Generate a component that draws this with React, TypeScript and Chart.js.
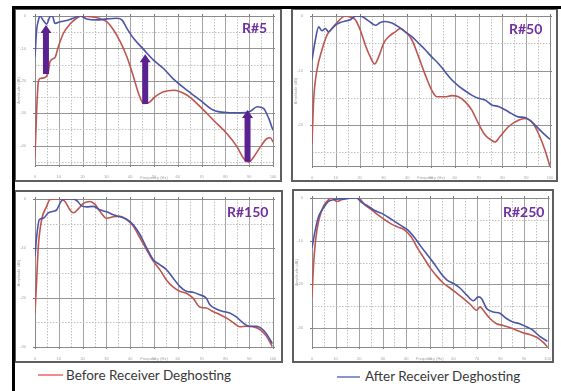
import React, { useEffect, useRef } from 'react';
import { Chart, registerables } from 'chart.js';

Chart.register(...registerables);

// ---------- Data (frequency, amplitude dB) ----------
// Panel R#5
const p1BlueFreq = [0, 0.7, 1.4, 2.1, 3.5, 4.9, 6.3, 7.3, 8.4, 10.5, 13.3, 16.1, 18.9, 21.7, 25.9, 30.2, 34.4, 36.5, 38.6, 41.4, 45.6, 49.8, 54.0, 58.2, 63.8, 69.4, 75.0, 80.6, 86.3, 90.5, 93.3, 96.1, 98.2, 100];
const p1BlueDb = [-12.6, -4.3, -1.4, 0, -1.4, -2.5, -0.2, 0, -2.3, -1.8, -1.4, -0.7, 0, -0.9, -1.2, -0.9, -0.7, -1.2, -3.8, -6.9, -10.3, -13.6, -16.2, -19.5, -22.9, -26.0, -29.1, -29.8, -29.9, -29.4, -28.0, -28.6, -31.6, -35.3];
const p1RedFreq = [0, 0.7, 1.4, 2.1, 4.2, 5.6, 6.3, 8.4, 9.8, 11.9, 14.7, 17.5, 19.6, 23.1, 27.3, 30.2, 33.0, 35.8, 38.6, 41.4, 43.5, 45.6, 47.7, 50.5, 54.0, 58.2, 63.8, 69.4, 75.0, 80.6, 84.9, 87.7, 89.8, 91.9, 94.7, 97.5, 98.9, 100];
const p1RedDb = [-43.5, -29.1, -20.3, -19.3, -19.0, -17.2, -14.1, -12.8, -9.5, -5.4, -2.5, -0.7, 0, -0.2, -0.8, -1.8, -4.3, -7.9, -12.6, -18.8, -23.9, -27.0, -26.8, -24.9, -23.4, -22.9, -24.4, -28.0, -32.2, -36.3, -40.4, -44.0, -45.1, -43.5, -40.4, -37.8, -37.6, -38.9];
const arrowFreq = [4.6, 46.3, 89.3];
const arrowFromDb = [-17.9, -27.2, -45.0];
const arrowToDb = [-2.8, -11.8, -29.0];

// Panel R#50
const p2BlueFreq = [0, 1.4, 2.8, 4.2, 5.6, 7.0, 8.4, 9.8, 11.9, 14.0, 16.1, 17.5, 18.9, 21.0, 23.8, 26.6, 28.7, 30.8, 33.6, 36.4, 39.2, 42.0, 44.8, 47.6, 50.3, 53.1, 55.9, 58.7, 61.5, 64.3, 67.1, 69.9, 72.7, 75.5, 78.3, 81.1, 83.9, 86.7, 89.5, 92.3, 95.1, 97.9, 100];
const p2BlueDb = [-8.1, -4.4, -2.0, -2.7, -2.3, -2.9, -2.3, -1.7, -1.2, -0.9, -0.7, -0.2, 0, -0.1, -0.9, -1.7, -1.2, -1.0, -1.3, -2.0, -2.9, -3.8, -5.0, -6.2, -7.5, -8.7, -10.2, -11.7, -12.8, -13.7, -14.5, -15.1, -15.4, -16.3, -16.6, -17.2, -17.9, -18.5, -18.6, -19.4, -20.6, -21.8, -22.6];
const p2RedFreq = [0, 0.7, 2.1, 4.2, 6.3, 8.4, 11.2, 14.0, 16.1, 18.2, 20.3, 22.4, 24.5, 26.3, 28.0, 30.1, 32.2, 35.0, 37.1, 39.2, 42.0, 44.8, 47.6, 50.3, 52.4, 55.9, 58.7, 61.5, 64.3, 67.1, 69.9, 72.7, 75.5, 76.9, 79.0, 82.5, 86.7, 89.5, 92.3, 95.1, 97.9, 100];
const p2RedDb = [-23.4, -15.4, -9.9, -6.2, -3.5, -2.3, -0.9, 0, -0.2, -0.7, -2.6, -5.3, -7.5, -8.8, -7.5, -5.0, -3.8, -2.9, -2.3, -2.9, -4.4, -7.5, -10.8, -13.6, -14.8, -14.8, -14.6, -14.8, -15.7, -17.2, -19.7, -21.8, -22.8, -23.1, -22.1, -20.3, -19.1, -18.8, -19.4, -21.5, -24.6, -27.6];

// Panel R#150
const p3BlueFreq = [0, 0.7, 1.8, 3.5, 5.6, 7.7, 9.1, 11.2, 13.3, 15.4, 17.5, 19.6, 21.7, 24.5, 27.3, 30.1, 32.9, 35.7, 38.5, 41.3, 44.1, 46.9, 49.7, 52.4, 55.2, 58.0, 60.8, 63.6, 66.4, 69.2, 72.0, 73.4, 76.2, 79.0, 81.8, 84.6, 87.4, 90.2, 93.0, 95.8, 97.9, 99.7];
const p3BlueDb = [-11.6, -7.6, -4.2, -3.9, -2.8, -2.5, -2.2, -0.3, 0, 0, -0.3, -1.4, -1.6, -1.5, -2.2, -2.6, -3.2, -3.6, -4.1, -5.2, -7.2, -9.9, -12.3, -13.3, -14.3, -16.0, -17.7, -18.7, -18.9, -19.4, -20.1, -21.4, -22.3, -22.8, -23.1, -23.9, -25.1, -25.8, -25.8, -26.5, -27.8, -29.3];
const p3RedFreq = [0, 0.7, 1.4, 2.8, 4.9, 6.3, 8.4, 10.5, 12.6, 14.7, 16.1, 18.2, 20.3, 23.1, 25.2, 27.3, 30.1, 32.9, 35.7, 38.5, 41.3, 44.1, 46.9, 49.7, 52.4, 55.2, 58.0, 60.8, 63.6, 66.4, 69.2, 72.0, 74.8, 77.6, 80.4, 83.2, 86.0, 88.8, 91.6, 94.4, 97.2, 99.7];
const p3RedDb = [-23.1, -16.4, -9.6, -4.2, -1.5, -0.1, 0, 0, -0.5, -2.2, -2.8, -2.0, -0.9, -0.5, -1.1, -2.5, -3.9, -3.6, -3.5, -4.2, -5.5, -7.9, -10.3, -12.6, -14.3, -16.4, -17.8, -18.7, -19.1, -20.1, -21.9, -22.1, -22.8, -23.4, -24.1, -25.0, -25.9, -25.8, -25.9, -26.4, -27.8, -29.9];

// Panel R#250
const p4BlueFreq = [0, 1.4, 2.8, 4.9, 7.0, 9.1, 11.2, 14.0, 16.8, 18.9, 21.0, 23.8, 26.6, 29.4, 32.2, 35.0, 37.8, 40.6, 43.4, 46.2, 49.0, 51.7, 54.5, 57.3, 60.1, 62.9, 65.7, 68.5, 70.6, 72.0, 74.1, 76.9, 79.7, 82.5, 85.3, 88.1, 90.9, 93.7, 96.5, 100];
const p4BlueDb = [-11.6, -7.4, -4.3, -2.3, -0.8, -0.4, -0.2, -0.2, 0, 0, -1.0, -1.9, -2.9, -3.5, -4.4, -5.4, -6.4, -7.4, -9.1, -11.2, -13.2, -15.1, -17.3, -19.0, -19.8, -20.9, -22.5, -23.8, -22.9, -23.3, -25.6, -26.4, -26.7, -27.9, -28.7, -29.1, -29.8, -30.6, -32.0, -33.2];
const p4RedFreq = [0, 0.7, 2.1, 4.2, 6.3, 8.4, 10.5, 12.6, 15.4, 18.2, 19.6, 22.4, 25.2, 28.0, 30.8, 33.6, 36.4, 39.2, 42.0, 44.8, 47.6, 50.3, 53.1, 55.9, 58.7, 61.5, 64.3, 67.1, 69.9, 71.3, 72.7, 75.5, 78.3, 81.1, 83.9, 86.7, 89.5, 92.3, 95.1, 97.9, 100];
const p4RedDb = [-22.9, -15.1, -7.4, -2.7, -0.8, 0, -0.8, -0.4, 0, 0, 0, -1.6, -2.7, -3.9, -5.0, -6.0, -6.7, -7.4, -8.9, -11.6, -14.0, -16.3, -18.2, -19.8, -20.9, -22.1, -23.3, -24.6, -26.0, -25.2, -26.0, -27.9, -29.1, -29.5, -30.0, -30.6, -31.2, -31.6, -32.2, -33.3, -34.5];

const panelLabels = ['R#5', 'R#50', 'R#150', 'R#250'];
const panelMinDb = [-46, -27.5, -30, -34.5];
const freqMin = 0;
const freqMax = 100;
const legendLabels = ['Before Receiver Deghosting', 'After Receiver Deghosting'];
const xAxisTitle = 'Frequency (Hz)';
const yAxisTitle = 'Amplitude (dB)';

// ---------- Styles ----------
const RED = '#bd5650';
const BLUE = '#4b55a8';
const ARROW = '#5a2290';
const LABEL = '#7030a0';

type Box = [number, number, number, number];
interface PanelLayout { frame: Box; plot: Box; label: [number, number]; }

const LAYOUT: PanelLayout[] = [
  { frame: [14, 8, 282, 182], plot: [35, 16, 273, 165], label: [242, 21] },
  { frame: [291, 8, 558, 182], plot: [312, 16, 550, 166], label: [509, 22] },
  { frame: [14, 190, 283, 363], plot: [35, 199, 273, 347], label: [227, 205] },
  { frame: [292, 189, 554, 363], plot: [312, 198, 550, 347], label: [503, 205] },
];

const toPts = (xs: number[], ys: number[]) => xs.map((x, i) => ({ x, y: ys[i] }));

const gridPlugin = {
  id: 'paperGrid',
  beforeDatasetsDraw(chart: any) {
    const { ctx, chartArea: a, scales } = chart;
    const xs = scales.x;
    const ys = scales.y;
    ctx.save();
    ctx.lineWidth = 1;
    const xVals: number[] = [];
    for (let v = freqMin; v <= freqMax; v += 5) xVals.push(v);
    xVals.forEach((v) => {
      const px = Math.round(xs.getPixelForValue(v)) + 0.5;
      const major = v % 10 === 0;
      ctx.strokeStyle = major ? '#a5a5a5' : '#c0c0c0';
      ctx.setLineDash(major ? [] : [1.5, 1.5]);
      ctx.beginPath();
      ctx.moveTo(px, a.top);
      ctx.lineTo(px, a.bottom);
      ctx.stroke();
      if (major) {
        ctx.setLineDash([]);
        ctx.strokeStyle = '#777';
        ctx.beginPath();
        ctx.moveTo(px, a.top - 2);
        ctx.lineTo(px, a.top);
        ctx.moveTo(px, a.bottom);
        ctx.lineTo(px, a.bottom + 2);
        ctx.stroke();
      }
    });
    const yVals: number[] = [];
    for (let v = 0; v >= ys.min; v -= 5) yVals.push(v);
    yVals.forEach((v) => {
      const py = Math.round(ys.getPixelForValue(v)) + 0.5;
      const major = v % 10 === 0;
      ctx.strokeStyle = major ? '#959595' : '#c0c0c0';
      ctx.setLineDash(major ? [] : [1.5, 1.5]);
      ctx.beginPath();
      ctx.moveTo(a.left, py);
      ctx.lineTo(a.right, py);
      ctx.stroke();
      if (major) {
        ctx.setLineDash([]);
        ctx.strokeStyle = '#777';
        ctx.beginPath();
        ctx.moveTo(a.left - 2, py);
        ctx.lineTo(a.left, py);
        ctx.moveTo(a.right, py);
        ctx.lineTo(a.right + 2, py);
        ctx.stroke();
      }
    });
    ctx.setLineDash([]);
    ctx.strokeStyle = '#8a8a8a';
    ctx.strokeRect(Math.round(a.left) + 0.5, Math.round(a.top) + 0.5, Math.round(a.right - a.left), Math.round(a.bottom - a.top));
    ctx.restore();
  },
};

const arrowPlugin = {
  id: 'upArrows',
  afterDatasetsDraw(chart: any, _args: any, opts: any) {
    const items = opts && opts.items;
    if (!items || !items.length) return;
    const { ctx, scales } = chart;
    ctx.save();
    ctx.fillStyle = ARROW;
    items.forEach((it: { f: number; from: number; to: number }) => {
      const px = scales.x.getPixelForValue(it.f);
      const yb = scales.y.getPixelForValue(it.from);
      const yt = scales.y.getPixelForValue(it.to);
      const sw = 3;
      const hw = 5.5;
      const hl = 8;
      ctx.beginPath();
      ctx.moveTo(px - sw, yb);
      ctx.lineTo(px - sw, yt + hl);
      ctx.lineTo(px - hw, yt + hl);
      ctx.lineTo(px, yt);
      ctx.lineTo(px + hw, yt + hl);
      ctx.lineTo(px + sw, yt + hl);
      ctx.lineTo(px + sw, yb);
      ctx.closePath();
      ctx.fill();
    });
    ctx.restore();
  },
};

const tickFont = { size: 4, family: 'Liberation Sans' };
const tickColor = '#a4a4a4';
const labelTick = (v: any) => (Math.abs(Number(v) % 10) < 1e-9 ? String(v) : '');

interface PanelProps {
  layout: PanelLayout;
  minDb: number;
  blue: { x: number; y: number }[];
  red: { x: number; y: number }[];
  arrows?: { f: number; from: number; to: number }[];
  label: string;
}

function Panel({ layout, minDb, blue, red, arrows, label }: PanelProps) {
  const ref = useRef<HTMLCanvasElement>(null);
  const [fl, ft, fr, fb] = layout.frame;
  const bw = 2;
  const cl = fl + bw;
  const ct = ft + bw;
  const cw = fr - fl - 2 * bw;
  const ch = fb - ft - 2 * bw;
  useEffect(() => {
    const [pl, pt, pr, pb] = layout.plot;
    const insL = pl - cl;
    const insT = pt - ct;
    const insR = cl + cw - pr;
    const insB = ct + ch - pb;
    const xCommon = {
      type: 'linear' as const,
      min: freqMin,
      max: freqMax,
      grid: { display: false },
      border: { display: false },
      ticks: { stepSize: 5, autoSkip: false, maxRotation: 0, font: tickFont, color: tickColor, padding: 1, callback: labelTick },
    };
    const yCommon = {
      type: 'linear' as const,
      min: minDb,
      max: 0,
      grid: { display: false },
      border: { display: false },
      ticks: { stepSize: 5, autoSkip: false, font: tickFont, color: tickColor, padding: 1, callback: labelTick },
    };
    const chart = new Chart(ref.current as HTMLCanvasElement, {
      type: 'line',
      data: {
        datasets: [
          { label: legendLabels[1], data: blue, borderColor: BLUE, borderWidth: 1.6, pointRadius: 0, cubicInterpolationMode: 'monotone', fill: false },
          { label: legendLabels[0], data: red, borderColor: RED, borderWidth: 1.6, pointRadius: 0, cubicInterpolationMode: 'monotone', fill: false },
        ],
      },
      options: {
        animation: false,
        responsive: false,
        devicePixelRatio: 1,
        layout: { padding: 0 },
        plugins: {
          legend: { display: false },
          tooltip: { enabled: false },
          upArrows: { items: arrows || [] },
        } as any,
        scales: {
          x: {
            ...xCommon,
            position: 'bottom',
            title: { display: true, text: xAxisTitle, font: { size: 4, family: 'Liberation Sans' }, color: tickColor, padding: 0 },
            afterFit: (s: any) => { s.height = insB; },
          },
          xTop: {
            ...xCommon,
            position: 'top',
            afterFit: (s: any) => { s.height = insT; },
          },
          y: {
            ...yCommon,
            position: 'left',
            title: { display: true, text: yAxisTitle, font: { size: 4, family: 'Liberation Sans' }, color: tickColor, padding: 0 },
            afterFit: (s: any) => { s.width = insL; },
          },
          yRight: {
            ...yCommon,
            position: 'right',
            afterFit: (s: any) => { s.width = insR; },
          },
        } as any,
      },
      plugins: [gridPlugin, arrowPlugin],
    });
    return () => chart.destroy();
  }, []);
  return (
    <>
      <div
        style={{
          position: 'absolute', left: fl, top: ft, width: fr - fl, height: fb - ft,
          boxSizing: 'border-box', border: `${bw}px solid #5e5e5e`, background: '#fff',
        }}
      />
      <canvas
        ref={ref}
        width={cw}
        height={ch}
        style={{ position: 'absolute', left: cl, top: ct, width: cw, height: ch }}
      />
      <div
        style={{
          position: 'absolute', left: layout.label[0], top: layout.label[1],
          font: 'bold 14px Lato, "Open Sans", sans-serif', lineHeight: '14px', color: LABEL, whiteSpace: 'nowrap',
        }}
      >
        {label}
      </div>
    </>
  );
}

export default function App() {
  useEffect(() => {
    document.body.style.margin = '0';
  }, []);
  const p1Arrows = arrowFreq.map((f, i) => ({ f, from: arrowFromDb[i], to: arrowToDb[i] }));
  const panels = [
    { blue: toPts(p1BlueFreq, p1BlueDb), red: toPts(p1RedFreq, p1RedDb), arrows: p1Arrows },
    { blue: toPts(p2BlueFreq, p2BlueDb), red: toPts(p2RedFreq, p2RedDb) },
    { blue: toPts(p3BlueFreq, p3BlueDb), red: toPts(p3RedFreq, p3RedDb) },
    { blue: toPts(p4BlueFreq, p4BlueDb), red: toPts(p4RedFreq, p4RedDb) },
  ];
  const legendText = { font: '13.5px Lato, "Open Sans", sans-serif', color: '#383838', lineHeight: '16px', whiteSpace: 'nowrap' as const };
  return (
    <div style={{ position: 'fixed', left: 0, top: 0, width: 561, height: 391, background: '#fff', overflow: 'hidden' }}>
      {panels.map((p, i) => (
        <Panel key={i} layout={LAYOUT[i]} minDb={panelMinDb[i]} blue={p.blue} red={p.red} arrows={(p as any).arrows} label={panelLabels[i]} />
      ))}
      <div style={{ position: 'absolute', left: 12, top: 6, width: 3, height: 385, background: '#000' }} />
      <div style={{ position: 'absolute', left: 12, top: 6, width: 549, height: 3, background: '#000' }} />
      <div style={{ position: 'absolute', left: 38, top: 374, width: 25, height: 2, background: '#f08c8c' }} />
      <div style={{ position: 'absolute', left: 66, top: 367, ...legendText }}>{legendLabels[0]}</div>
      <div style={{ position: 'absolute', left: 337, top: 376, width: 23, height: 2, background: '#8796cc' }} />
      <div style={{ position: 'absolute', left: 365, top: 368, ...legendText }}>{legendLabels[1]}</div>
    </div>
  );
}
